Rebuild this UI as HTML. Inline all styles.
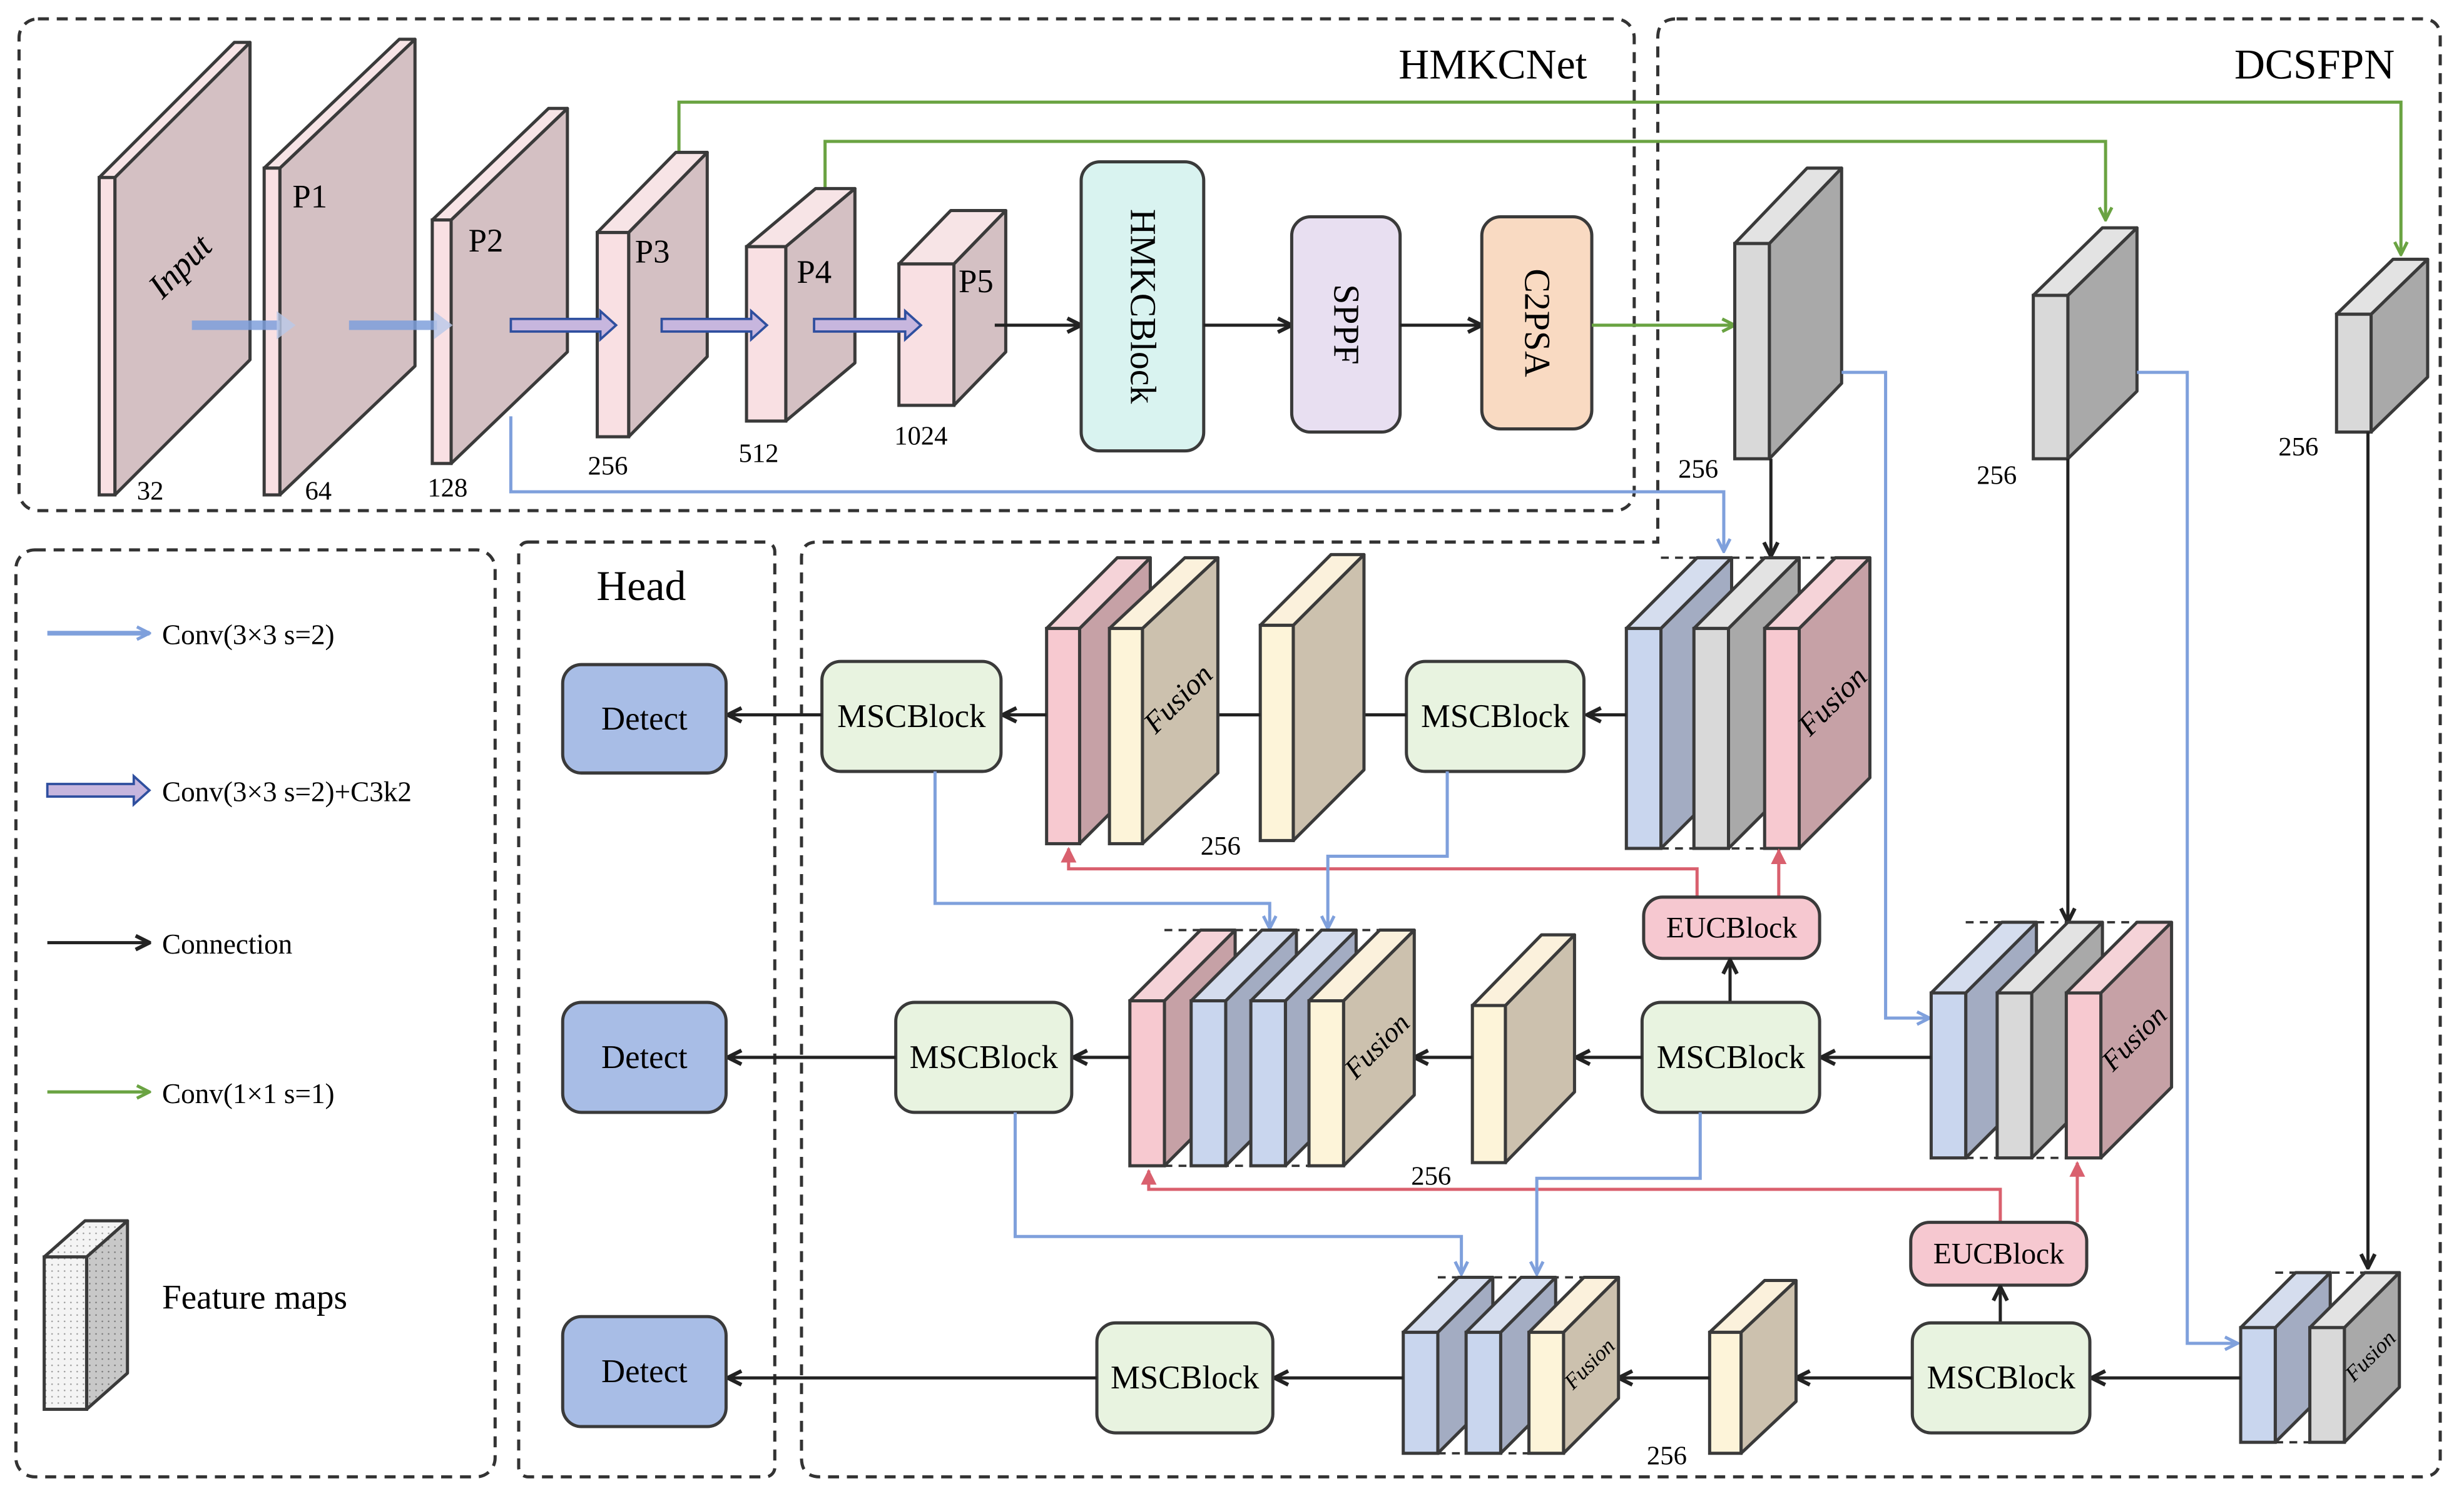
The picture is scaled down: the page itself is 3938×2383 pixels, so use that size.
<!DOCTYPE html>
<html><head><meta charset="utf-8">
<style>html,body{margin:0;padding:0;background:#fff}svg{display:block}
svg text{font-family:'Liberation Serif','DejaVu Serif',serif !important;fill:#000}</style></head>
<body>
<svg id="s" width="3938" height="2383" viewBox="0 0 1568 949" xmlns="http://www.w3.org/2000/svg">
<defs>
<marker id="ak" viewBox="0 0 10 10" refX="9" refY="5" markerWidth="11" markerHeight="11" orient="auto" markerUnits="userSpaceOnUse"><path d="M1,1 L9,5 L1,9" fill="none" stroke="#222" stroke-width="2.2"/></marker>
<marker id="ab" viewBox="0 0 10 10" refX="9" refY="5" markerWidth="10" markerHeight="10" orient="auto" markerUnits="userSpaceOnUse"><path d="M1,1 L9,5 L1,9" fill="none" stroke="#7fa0dc" stroke-width="2"/></marker>
<marker id="ag" viewBox="0 0 10 10" refX="9" refY="5" markerWidth="10" markerHeight="10" orient="auto" markerUnits="userSpaceOnUse"><path d="M1,1 L9,5 L1,9" fill="none" stroke="#6aa342" stroke-width="2"/></marker>
<marker id="ar" viewBox="0 0 10 10" refX="9" refY="5" markerWidth="10" markerHeight="10" orient="auto" markerUnits="userSpaceOnUse"><path d="M0,0 L10,5 L0,10Z" fill="#d9606e"/></marker>
<pattern id="dots" width="4" height="4" patternUnits="userSpaceOnUse"><rect width="4" height="4" fill="#f4f4f4"/><circle cx="1" cy="1" r="0.5" fill="#999"/></pattern>
<pattern id="dots2" width="4" height="4" patternUnits="userSpaceOnUse"><rect width="4" height="4" fill="#c8c8c8"/><circle cx="1" cy="1" r="0.5" fill="#777"/></pattern>
</defs>
<g id="g"></g>
</svg>
<script>
var g=document.getElementById('g'),o='';
var FF=' style="font-family:\'Liberation Serif\',\'DejaVu Serif\',serif"';
function blk(x,y,w,h,dx,dy,f,s,t,lab,lx,ly,ls){
 o+='<polygon points="'+(x+w)+','+y+' '+(x+w+dx)+','+(y-dy)+' '+(x+w+dx)+','+(y+h-dy)+' '+(x+w)+','+(y+h)+'" fill="'+s+'" stroke="#3a3a3a" stroke-width="2" stroke-linejoin="round"/>';
 o+='<polygon points="'+x+','+y+' '+(x+dx)+','+(y-dy)+' '+(x+w+dx)+','+(y-dy)+' '+(x+w)+','+y+'" fill="'+t+'" stroke="#3a3a3a" stroke-width="2" stroke-linejoin="round"/>';
 o+='<rect x="'+x+'" y="'+y+'" width="'+w+'" height="'+h+'" fill="'+f+'" stroke="#3a3a3a" stroke-width="2"/>';
 if(lab){o+='<text'+FF+' x="'+(x+w+dx/2)+'" y="'+(y+h/2-dy/2)+'" font-size="'+ls+'" font-style="italic" text-anchor="middle" dominant-baseline="middle" transform="rotate(-45 '+(x+w+dx/2)+' '+(y+h/2-dy/2)+')">'+lab+'</text>';}
}
function ln(p,c,m,w,d){o+='<polyline points="'+p+'" fill="none" stroke="'+c+'" stroke-width="'+(w||2)+'"'+(m?' marker-end="url(#'+m+')"':'')+(d?' stroke-dasharray="'+d+'"':'')+'/>';}
function box(x,y,w,h,f,t,fs,rot){o+='<rect x="'+x+'" y="'+y+'" width="'+w+'" height="'+h+'" rx="12" fill="'+f+'" stroke="#3a3a3a" stroke-width="2"/>';
 var cx=x+w/2,cy=y+h/2;o+='<text'+FF+' x="'+cx+'" y="'+cy+'" font-size="'+fs+'" text-anchor="middle" dominant-baseline="central"'+(rot?' transform="rotate(90 '+cx+' '+cy+')"':'')+'>'+t+'</text>';}
function tx(x,y,t,fs,a){o+='<text'+FF+' x="'+x+'" y="'+y+'" font-size="'+fs+'"'+(a?' text-anchor="'+a+'"':'')+'>'+t+'</text>';}
var PF='#f9e0e3',PS='#d4c0c3',PT='#f7e4e6';
var GF='#d9d9d9',GS='#a9a9a9',GT='#e3e3e3';
var BF='#c9d6ee',BS='#a3acc2',BT='#d5ddee';
var YF='#fdf4d9',YS='#ccc1ae',YT='#fbf1dc';
var RF='#f7c9d0',RS='#c6a1a6',RT='#f5d3d8';
o+='<rect x="12" y="12" width="1028" height="313" rx="12" fill="none" stroke="#333" stroke-width="2" stroke-dasharray="7,5"/>';
o+='<path d="M1067,12 H1541 Q1553,12 1553,24 V928 Q1553,940 1541,940 H522 Q510,940 510,928 V355 Q510,345 520,345 H1055 V24 Q1055,12 1067,12Z" fill="none" stroke="#333" stroke-width="2" stroke-dasharray="7,5"/>';
o+='<rect x="10" y="350" width="305" height="590" rx="12" fill="none" stroke="#333" stroke-width="2" stroke-dasharray="7,5"/>';
o+='<rect x="330" y="345" width="163" height="595" rx="6" fill="none" stroke="#333" stroke-width="2" stroke-dasharray="7,5"/>';
tx(1010,50,'HMKCNet',27,'end');tx(1524,50,'DCSFPN',27,'end');tx(408,382,'Head',27,'middle');
ln('432,97 432,65 1528,65 1528,162','#6aa342','ag');
ln('525,120 525,90 1340,90 1340,140','#6aa342','ag');
blk(63,113,10,202,86,86,PF,PS,PT,'Input',0,0,22);
blk(168,107,10,208,86,82,PF,PS,PT);
blk(275,140,12,155,74,71,PF,PS,PT);
blk(380,148,20,130,50,51,PF,PS,PT);
blk(475,157,25,111,44,37,PF,PS,PT);
blk(572,168,35,90,33,34,PF,PS,PT);
tx(186,132,'P1',21);tx(298,160,'P2',21);tx(404,167,'P3',21);tx(507,180,'P4',21);tx(610,186,'P5',21);
tx(87,318,'32',17);tx(194,318,'64',17);tx(272,316,'128',17);tx(374,302,'256',17);tx(470,294,'512',17);tx(569,283,'1024',17);
function thick(x1,x2,y){o+='<line x1="'+x1+'" y1="'+y+'" x2="'+(x2-10)+'" y2="'+y+'" stroke="#7fa0dc" stroke-width="6" opacity="0.85"/><polygon points="'+(x2-12)+','+(y-9)+' '+x2+','+y+' '+(x2-12)+','+(y+9)+'" fill="#b9c8e8" opacity="0.8"/>';}
function hol(x1,x2,y){o+='<polygon points="'+x1+','+(y-4)+' '+(x2-10)+','+(y-4)+' '+(x2-10)+','+(y-9)+' '+x2+','+y+' '+(x2-10)+','+(y+9)+' '+(x2-10)+','+(y+4)+' '+x1+','+(y+4)+'" fill="#c7b6de" stroke="#2f4f9f" stroke-width="1.5"/>';}
thick(122,188,207);thick(222,288,207);hol(325,392,207);hol(421,488,207);hol(518,586,207);
ln('633,207 688,207','#222','ak');
box(688,103,78,184,'#d9f3f0','HMKCBlock',23,1);
ln('766,207 822,207','#222','ak');
box(822,138,69,137,'#e8dff1','SPPF',23,1);
ln('891,207 943,207','#222','ak');
box(943,138,70,135,'#f9dac2','C2PSA',23,1);
ln('1013,207 1104,207','#6aa342','ag');
blk(1104,155,22,137,46,48,GF,GS,GT);tx(1068,304,'256',17);
blk(1294,188,22,104,44,43,GF,GS,GT);tx(1258,308,'256',17);
blk(1487,200,22,75,36,35,GF,GS,GT);tx(1450,290,'256',17);
ln('325,265 325,313 1097,313 1097,351','#7fa0dc','ab');
ln('1127,292 1127,354','#222','ak');
ln('1172,237 1200,237 1200,648 1228,648','#7fa0dc','ab');
ln('1360,237 1392,237 1392,855 1424,855','#7fa0dc','ab');
ln('1316,292 1316,587','#222','ak');
ln('1507,275 1507,807','#222','ak');
function dashTops(xs,y,h,dx,dy,xe){ln(xs+','+(y-dy)+' '+xe+','+(y-dy),'#333',0,1.5,'5,4');ln(xs+','+y+' '+(xe-dx)+','+y,'#333',0,1.5,'5,4');ln(xs+','+(y+h)+' '+(xe-dx)+','+(y+h),'#333',0,1.5,'5,4');}
dashTops(1057,400,140,45,45,1168);
blk(1035,400,22,140,45,45,BF,BS,BT);
blk(1078,400,22,140,45,45,GF,GS,GT);
blk(1123,400,22,140,45,45,RF,RS,RT,'Fusion',0,0,19);
ln('1035,455 1010,455','#222','ak');
box(895,421,113,70,'#e8f3e0','MSCBlock',21);
ln('895,455 848,455','#222','ak');
blk(802,398,21,137,45,45,YF,YS,YT);tx(764,544,'256',17);
ln('802,455 757,455','#222','ak');
blk(666,400,21,137,45,45,RF,RS,RT);
blk(706,400,21,137,48,45,YF,YS,YT,'Fusion',0,0,19);
ln('666,455 638,455','#222','ak');
box(523,421,114,70,'#e8f3e0','MSCBlock',21);
ln('523,455 463,455','#222','ak');
box(358,423,104,69,'#a8bde6','Detect',21);
ln('1080,571 1080,553 680,553 680,540','#d9606e','ar');
ln('1132,571 1132,541','#d9606e','ar');
box(1046,571,112,39,'#f6c8d0','EUCBlock',19);
ln('1101,637 1101,611','#222','ak');
ln('595,491 595,575 808,575 808,591','#7fa0dc','ab');
ln('921,491 921,545 845,545 845,591','#7fa0dc','ab');
dashTops(1251,632,105,45,45,1360);
blk(1229,632,22,105,45,45,BF,BS,BT);
blk(1271,632,22,105,45,45,GF,GS,GT);
blk(1315,632,22,105,45,45,RF,RS,RT,'Fusion',0,0,18);
ln('1229,673 1159,673','#222','ak');
box(1045,638,113,70,'#e8f3e0','MSCBlock',21);
ln('1045,673 1003,673','#222','ak');
blk(937,640,21,100,44,45,YF,YS,YT);tx(898,754,'256',17);
ln('937,673 900,673','#222','ak');
dashTops(741,637,105,45,45,878);
blk(719,637,22,105,45,45,RF,RS,RT);
blk(758,637,22,105,45,45,BF,BS,BT);
blk(796,637,22,105,45,45,BF,BS,BT);
blk(833,637,22,105,45,45,YF,YS,YT,'Fusion',0,0,18);
ln('719,673 683,673','#222','ak');
box(570,638,112,70,'#e8f3e0','MSCBlock',21);
ln('570,673 463,673','#222','ak');
box(358,638,104,70,'#a8bde6','Detect',21);
ln('1273,778 1273,757 731,757 731,745','#d9606e','ar');
ln('1322,778 1322,740','#d9606e','ar');
box(1216,778,112,40,'#f6c8d0','EUCBlock',19);
ln('1273,842 1273,819','#222','ak');
ln('646,708 646,787 930,787 930,811','#7fa0dc','ab');
ln('1082,708 1082,750 978,750 978,811','#7fa0dc','ab');
dashTops(1448,845,73,35,35,1527);
blk(1426,845,22,73,35,35,BF,BS,BT);
blk(1470,845,22,73,35,35,GF,GS,GT,'Fusion',0,0,14);
ln('1426,877 1331,877','#222','ak');
box(1217,842,113,70,'#e8f3e0','MSCBlock',21);
ln('1217,877 1143,877','#222','ak');
blk(1088,848,20,77,35,33,YF,YS,YT);tx(1048,932,'256',17);
ln('1088,877 1030,877','#222','ak');
dashTops(915,848,77,35,35,1030);
blk(893,848,22,77,35,35,BF,BS,BT);
blk(933,848,22,77,35,35,BF,BS,BT);
blk(973,848,22,77,35,35,YF,YS,YT,'Fusion',0,0,14);
ln('893,877 811,877','#222','ak');
box(698,842,112,70,'#e8f3e0','MSCBlock',21);
ln('698,877 463,877','#222','ak');
box(358,838,104,70,'#a8bde6','Detect',21);
ln('30,403 95,403','#7fa0dc','ab',3);tx(103,410,'Conv(3×3 s=2)',18);
hol(30,95,503);tx(103,510,'Conv(3×3 s=2)+C3k2',18);
ln('30,600 95,600','#222','ak');tx(103,607,'Connection',18);
ln('30,695 95,695','#6aa342','ag');tx(103,702,'Conv(1×1 s=1)',18);
blk(28,800,27,97,26,23,'url(#dots)','url(#dots2)','url(#dots)');
tx(103,833,'Feature maps',22);
g.innerHTML=o;
</script>
</body></html>
